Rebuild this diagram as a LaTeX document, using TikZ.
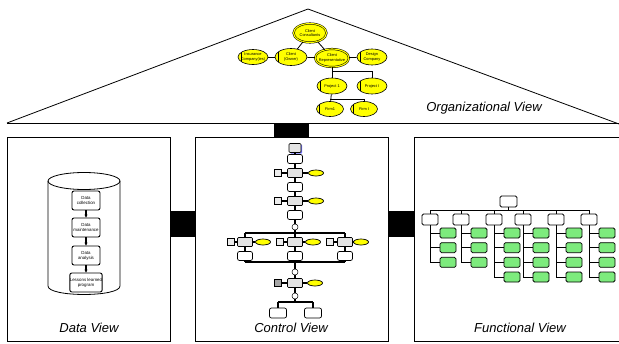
\documentclass[tikz,border=0pt]{standalone}
\usepackage{fontspec}
\setmainfont{Liberation Sans}
\usetikzlibrary{shapes.geometric,arrows.meta,shadows}
\definecolor{oyellow}{RGB}{255,255,0}
\definecolor{fgreen}{RGB}{125,235,125}
\begin{document}
\begin{tikzpicture}[x=1pt,y=-1pt,
  lab/.style={font=\fontsize{13}{15}\selectfont\itshape, inner sep=0pt},
  org/.style={ellipse, draw, fill=oyellow, inner xsep=-2.5pt, inner ysep=-1pt, line width=0.6pt, align=center,
     font=\fontsize{3.9}{4.4}\selectfont,
     path picture={\draw[line width=0.4pt] ([xshift=3pt]path picture bounding box.north west) -- ([xshift=3pt]path picture bounding box.south west);}},
  orgd/.style={ellipse, draw, fill=oyellow, double=oyellow, double distance=1.1pt, inner xsep=-2.5pt, inner ysep=-1pt, line width=0.5pt, align=center,
     font=\fontsize{3.9}{4.4}\selectfont},
  ol/.style={line width=0.8pt},
  dbox/.style={rectangle, rounded corners=2pt, draw, fill=white, line width=0.9pt, minimum width=28pt, minimum height=19pt, inner sep=0pt, align=center, font=\fontsize{4.4}{5}\selectfont},
  cproc/.style={rectangle, rounded corners=1pt, draw, fill=gray!22, line width=0.7pt, minimum width=15pt, minimum height=9pt, inner sep=0pt},
  cwht/.style={rectangle, rounded corners=2pt, draw, fill=white, line width=0.7pt, minimum width=15pt, minimum height=9pt, inner sep=0pt},
  cdb/.style={cylinder, shape border rotate=90, aspect=0.45, draw, fill=gray!15, line width=0.5pt, minimum width=7pt, minimum height=7.5pt, inner sep=0pt},
  cev/.style={ellipse, draw, fill=oyellow, line width=0.7pt, minimum width=15pt, minimum height=6pt, inner sep=0pt},
  ccirc/.style={circle, draw, fill=white, line width=0.5pt, minimum size=6pt, inner sep=0pt},
  cl/.style={line width=1.1pt},
  fh/.style={rectangle, rounded corners=1.5pt, draw, fill=white, line width=0.8pt, minimum width=16pt, minimum height=11pt, inner sep=0pt},
  fg/.style={rectangle, rounded corners=1.5pt, draw, fill=fgreen, line width=0.8pt, minimum width=16pt, minimum height=10pt, inner sep=0pt},
  fl/.style={line width=1pt}]
\useasboundingbox (0,0) rectangle (619,343);
\clip (0,0) rectangle (619,343);
\fill[white] (0,0) rectangle (619,343);

% roof
\draw[line width=0.8pt] (7,123) -- (308,9) -- (619,124);
\draw[line width=0.8pt] (7,123) -- (619,123);

% panels
\draw[line width=0.8pt] (7,137) rectangle (170,341);
\draw[line width=0.8pt] (195,137) rectangle (388,341);
\draw[line width=0.8pt] (630,137) -- (414,137) -- (414,341) -- (630,341);

% black connector blocks
\fill (274,123) rectangle (309,137);
\fill (170,211) rectangle (195,237);
\fill (388,211) rectangle (414,237);

% ---------- organizational chart ----------
\node[orgd, minimum width=33pt, minimum height=19pt] (cc) at (310,33) {Client\\Consultants};
\node[org, minimum width=30pt, minimum height=15pt] (ins) at (253,57) {Insurance\\Company(ies)};
\node[org, minimum width=32pt, minimum height=17pt] (co) at (291,57) {Client\\(Owner)};
\node[orgd, minimum width=34pt, minimum height=18pt] (cr) at (332,58) {Client\\Representative};
\node[org, minimum width=30pt, minimum height=16pt] (dc) at (372,57) {Design\\Company};
\node[org, minimum width=30pt, minimum height=16pt] (p1) at (332,86) {Project 1};
\node[org, minimum width=30pt, minimum height=16pt] (pI) at (372,86) {Project I};
\node[org, minimum width=27pt, minimum height=15pt] (f1) at (330,109) {Firm1};
\node[org, minimum width=27pt, minimum height=15pt] (fI) at (364,109) {Firm I};
\coordinate (j1) at (332,71);
\coordinate (j2) at (330,99);
\draw[ol] (cc) -- (co);
\draw[ol] (cc) -- (cr);
\draw[ol] (ins) -- (co);
\draw[ol] (co) -- (cr);
\draw[ol] (cr) -- (dc);
\draw[ol] (cr) -- (p1);
\draw[ol] (j1) -| (pI);
\draw[ol] (p1) -- (f1);
\draw[ol] (j2) -| (fI);

\node[lab] (ov) at (484,108) {Organizational View};

% ---------- data view ----------
\draw[line width=0.8pt] (48,181) -- (48,286) .. controls (48,297.3) and (120,297.3) .. (120,286) -- (120,181);
\draw[line width=0.8pt] (84,181) ellipse [x radius=36pt, y radius=8.5pt];
\node[dbox] (d1) at (86,200.5) {Data\\collection};
\node[dbox] (d2) at (86,227.5) {Data\\maintenance};
\node[dbox] (d3) at (86,255.5) {Data\\analysis};
\node[dbox] (d4) at (86,282.5) {Lessons learned\\program};
\draw[line width=1.1pt,-{Stealth[length=3pt,width=3pt]}] (d1) -- (d2);
\draw[line width=1.1pt,-{Stealth[length=3pt,width=3pt]}] (d2) -- (d3);
\draw[line width=1.1pt,-{Stealth[length=3pt,width=3pt]}] (d3) -- (d4);
\node[lab] (dv) at (89,328) {Data View};

% ---------- control view ----------
\node[cproc, minimum width=12pt, minimum height=9pt, drop shadow={shadow xshift=1.2pt, shadow yshift=-1.2pt, fill=blue!55, opacity=1}] (c1) at (295,148) {};
\node[cwht] (c2) at (295,159) {};
\node[cproc] (c3) at (295,173) {};
\node[cdb] (db3) at (278,173) {};
\node[cev] (e3) at (316,173) {};
\node[cwht] (c4) at (295,187) {};
\node[cproc] (c5) at (295,201) {};
\node[cdb] (db5) at (278,201) {};
\node[cev] (e5) at (316,201) {};
\node[cwht] (c6) at (295,215) {};
\node[ccirc] (k1) at (295,227) {};
\coordinate (tL) at (245,233);
\coordinate (tM) at (295,233);
\coordinate (tR) at (345,233);
\node[cproc] (g1) at (245,242) {};
\node[cproc] (g2) at (295,242) {};
\node[cproc] (g3) at (345,242) {};
\node[cdb] (gdb1) at (231,242) {};
\node[cdb] (gdb2) at (280,242) {};
\node[cdb] (gdb3) at (330,242) {};
\node[cev] (ge1) at (263,242) {};
\node[cev] (ge2) at (313,242) {};
\node[cev] (ge3) at (361,242) {};
\node[cwht] (w1) at (245,256) {};
\node[cwht] (w2) at (295,256) {};
\node[cwht] (w3) at (345,256) {};
\coordinate (bL) at (245,262);
\coordinate (bM) at (295,262);
\coordinate (bR) at (345,262);
\node[ccirc] (k2) at (295,272) {};
\node[cproc] (c7) at (295,283) {};
\node[cdb, fill=gray!70] (db7) at (278,283) {};
\node[cev] (e7) at (315,283) {};
\node[ccirc] (k3) at (295,296) {};
\coordinate (qL) at (278,302);
\coordinate (qM) at (295,302);
\coordinate (qR) at (313,302);
\node[cwht, minimum width=17pt, minimum height=10pt] (o1) at (278,313) {};
\node[cwht, minimum width=17pt, minimum height=10pt] (o2) at (313,313) {};
\begin{scope}[cl]
\draw (c1) -- (c2); \draw (c2) -- (c3); \draw (c3) -- (c4); \draw (c4) -- (c5);
\draw (c5) -- (c6); \draw (c6) -- (k1); \draw (k1) -- (tM);
\draw (db3) -- (c3); \draw (c3) -- (e3); \draw (db5) -- (c5); \draw (c5) -- (e5);
\draw (tL) -- (tR);
\draw (tL) -- (g1); \draw (tM) -- (g2); \draw (tR) -- (g3);
\draw (gdb1) -- (g1); \draw (g1) -- (ge1);
\draw (gdb2) -- (g2); \draw (g2) -- (ge2);
\draw (gdb3) -- (g3); \draw (g3) -- (ge3);
\draw (g1) -- (w1); \draw (g2) -- (w2); \draw (g3) -- (w3);
\draw (w1) -- (bL); \draw (w2) -- (bM); \draw (w3) -- (bR);
\draw (bL) -- (bR);
\draw (bM) -- (k2); \draw (k2) -- (c7); \draw (db7) -- (c7); \draw (c7) -- (e7);
\draw (c7) -- (k3); \draw (k3) -- (qM);
\draw (qL) -- (qR); \draw (qL) -- (o1); \draw (qR) -- (o2);
\end{scope}
\node[lab] (cv) at (291,328) {Control View};

% ---------- functional view ----------
\node[fh, minimum width=17pt] (f0) at (508.5,201.5) {};
\coordinate (fb) at (508.5,210);
\coordinate (fbL) at (430,210);
\coordinate (fbR) at (589,210);
\draw[fl] (f0) -- (fb);
\draw[fl] (fbL) -- (fbR);
\foreach \i/\x/\n in {1/430/3,2/461/3,3/494/4,4/523/4,5/556/4,6/589/4} {
  \node[fh] (h\i) at (\x,219.5) {};
  \coordinate (t\i) at (\x,210);
  \draw[fl] (t\i) -- (h\i);
  \foreach \j in {1,...,\n} {
    \pgfmathsetmacro\yy{233+14.67*(\j-1)}
    \node[fg] (g\i-\j) at (\x+18,\yy) {};
    \coordinate (s\i-\j) at (\x,\yy);
    \draw[fl] (s\i-\j) -- (g\i-\j);
  }
  \draw[fl] (h\i) -- (s\i-\n);
}
\node[lab] (fv) at (520,328) {Functional View};
\end{tikzpicture}
\end{document}
